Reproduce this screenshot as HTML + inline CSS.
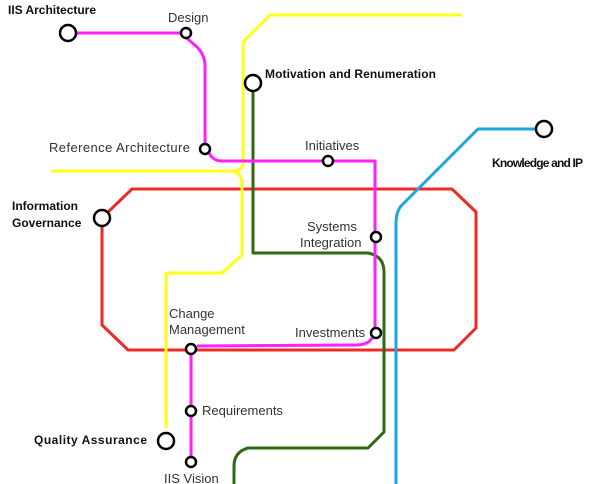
<!DOCTYPE html>
<html><head><meta charset="utf-8"><style>
html,body{margin:0;padding:0;background:#fff;width:600px;height:484px;overflow:hidden}
svg{display:block}
text{font-family:"Liberation Sans",sans-serif;font-size:13px;fill:#333}
.b{font-weight:bold;fill:#111;font-size:12px}
</style></head><body>
<svg width="600" height="484" viewBox="0 0 600 484" xmlns="http://www.w3.org/2000/svg">
<g fill="none" stroke-width="3" stroke-linejoin="round">
<path stroke="#ee2a24" d="M108,212 L132,189 L452,189 L476,212 L476,328 L454,350 L128,350 L102,325 L102,226"/>
<path stroke="#ffff1a" d="M462,15 L270,15 L243,42 L243,162 Q243,171 232,171 L51,171"/>
<path stroke="#ffff1a" d="M232,171 Q242,173 242,184 L242,255 L222,273 L166,273 L166,428"/>
<path stroke="#2f6a12" d="M253,91 L253,253 L368,253 Q384,256 384,272 L384,432 L368,448 L248,448 Q234,452 234,466 L234,484"/>
<path stroke="#1ba6de" d="M536,129 L478,129 L401,206 Q396,212 396,224 L396,484"/>
<path stroke="#ff1fff" d="M76,33 L181,33 L198,48 Q205,56 205,66 L205,144"/>
<path stroke="#ff1fff" d="M209,153 Q213,161 222,161 L375,161 L375,328"/>
<path stroke="#ff1fff" d="M372,338 Q368,345 356,345 L197,346"/>
<path stroke="#ff1fff" d="M191,354 L191,457"/>
</g>
<g fill="#fff" stroke="#000" stroke-width="2.5">
<circle cx="68" cy="33" r="8"/>
<circle cx="186" cy="33" r="5"/>
<circle cx="205" cy="149" r="5"/>
<circle cx="253" cy="83" r="8"/>
<circle cx="544" cy="129" r="8"/>
<circle cx="328" cy="161" r="5"/>
<circle cx="102" cy="218" r="8"/>
<circle cx="376" cy="237" r="5"/>
<circle cx="376" cy="333" r="5"/>
<circle cx="191" cy="349" r="5"/>
<circle cx="191" cy="411" r="5"/>
<circle cx="191" cy="462" r="5"/>
<circle cx="166" cy="441" r="8"/>
</g>
<text class="b" x="8" y="14" textLength="88">IIS Architecture</text>
<text x="168" y="22">Design</text>
<text class="b" x="265" y="78" textLength="171">Motivation and Renumeration</text>
<text x="49" y="152" textLength="141">Reference Architecture</text>
<text x="305" y="150">Initiatives</text>
<text class="b" x="492" y="167" textLength="91">Knowledge and IP</text>
<text class="b" x="12" y="210">Information</text>
<text class="b" x="12" y="227">Governance</text>
<text x="307" y="231">Systems</text>
<text x="300" y="247">Integration</text>
<text x="169" y="318">Change</text>
<text x="169" y="334">Management</text>
<text x="295" y="337">Investments</text>
<text x="202" y="415">Requirements</text>
<text class="b" x="34" y="444" textLength="113">Quality Assurance</text>
<text x="164" y="483">IIS Vision</text>
</svg>
</body></html>
